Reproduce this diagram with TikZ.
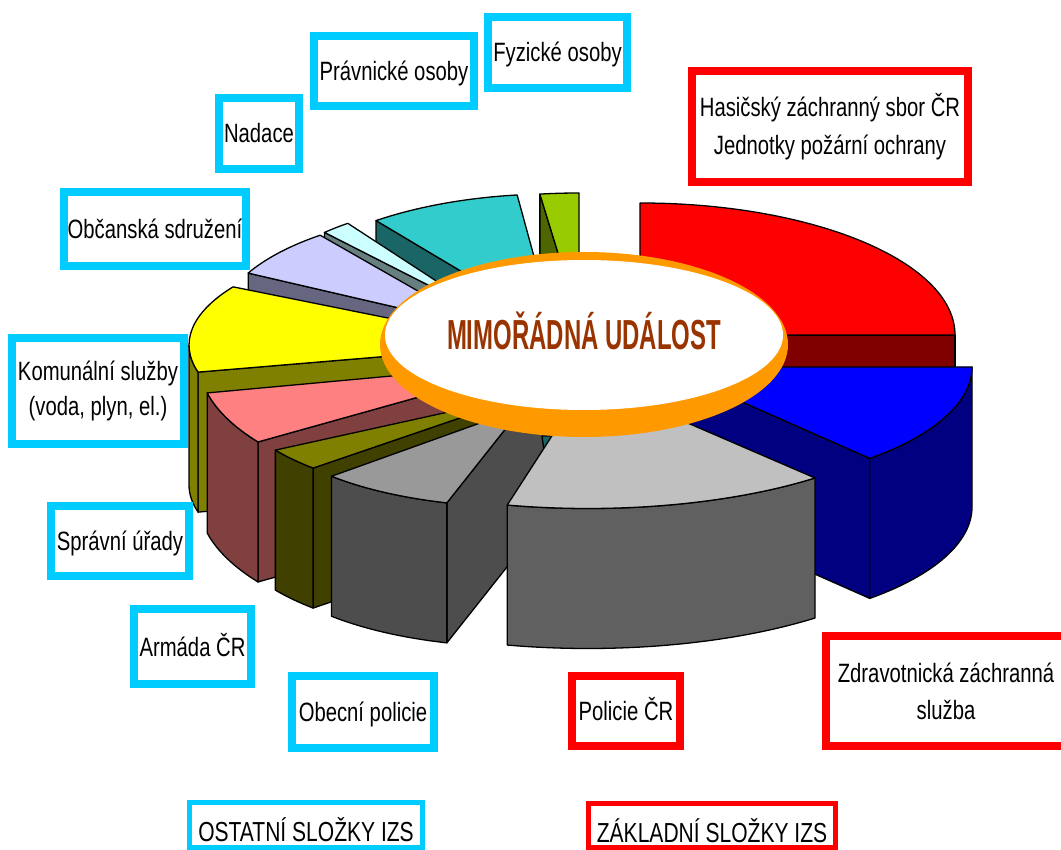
\documentclass[tikz,border=0pt]{standalone}
\usepackage{fontspec}
\newfontfamily\lbl{Liberation Sans}[FakeStretch=0.765]
\newfontfamily\ttlfont{Liberation Sans}[FakeStretch=0.57]
\usetikzlibrary{shapes.geometric}
\definecolor{izsc}{HTML}{00CCFF}
\definecolor{izsr}{HTML}{FF0000}
\definecolor{ringc}{HTML}{FF9900}
\definecolor{ttlc}{HTML}{993300}
\definecolor{cRedT}{HTML}{FF0000}\definecolor{cRedS}{HTML}{800000}
\definecolor{cBluT}{HTML}{0000FF}\definecolor{cBluS}{HTML}{000080}
\definecolor{cPolT}{HTML}{C0C0C0}\definecolor{cPolS}{HTML}{606060}
\definecolor{cObpT}{HTML}{999999}\definecolor{cObpS}{HTML}{4D4D4D}
\definecolor{cArmT}{HTML}{808000}\definecolor{cArmS}{HTML}{404000}
\definecolor{cSprT}{HTML}{FF8080}\definecolor{cSprS}{HTML}{804040}
\definecolor{cKomT}{HTML}{FFFF00}\definecolor{cKomS}{HTML}{808000}
\definecolor{cObcT}{HTML}{CCCCFF}\definecolor{cObcS}{HTML}{666680}
\definecolor{cNadT}{HTML}{CCFFFF}\definecolor{cNadS}{HTML}{668080}
\definecolor{cPraT}{HTML}{33CCCC}\definecolor{cPraS}{HTML}{1A6666}
\definecolor{cFyzT}{HTML}{99CC00}\definecolor{cFyzS}{HTML}{4D6600}
\tikzset{
  slc/.style={draw=black,line width=1.3pt,line join=round},
  pics/ptop/.style n args={5}{code={%
    \filldraw[slc,fill=#5] (0,0) -- (#3:#1 and #2) arc[start angle=#3,end angle=#4,x radius=#1,y radius=#2] -- cycle;}},
  pics/pside/.style n args={5}{code={%
    \filldraw[slc,fill=#5] (#3:#1 and #2) arc[start angle=#3,end angle=#4,x radius=#1,y radius=#2] -- ++(0,140) arc[start angle=#4,end angle=#3,x radius=#1,y radius=#2] -- cycle;}},
  pics/prad/.style n args={5}{code={%
    \filldraw[slc,fill=#5] (#3:#1 and #2) -- (#3+180:#4*#1 and #4*#2) -- ++(0,140) -- ++(#3:#1+#4*#1 and #2+#4*#2) -- cycle;}},
  lab/.style={draw=#1,line width=8pt,fill=white,inner sep=0pt,font=\lbl\fontsize{26.5}{36}\selectfont},
  one/.style={text height=19pt,text depth=0pt}
}
\begin{document}
\begin{tikzpicture}[x=1pt,y=1pt,yscale=-1,every pic/.style={transform shape}]
\useasboundingbox (0,0) rectangle (1061,850);
\clip (0,0) rectangle (1061,850);
\fill[white] (0,0) rectangle (1061,850);
% back slices
\pic[transform shape] at (579,321) {prad={300}{128}{262.5}{0}{cFyzS}};
\pic[transform shape] at (579,321) {ptop={300}{128}{262.5}{270}{cFyzT}};
\pic[transform shape] at (553,326) {prad={294}{132}{233}{0}{cPraS}};
\pic[transform shape] at (553,326) {ptop={294}{132}{233}{263}{cPraT}};
\pic[transform shape] at (493,318) {prad={247}{117}{227}{0}{cNadS}};
\pic[transform shape] at (493,318) {ptop={247}{117}{227}{234}{cNadT}};
\pic[transform shape] at (481,327) {prad={263}{116}{207.7}{0}{cObcS}};
\pic[transform shape] at (481,327) {ptop={263}{116}{207.7}{232.3}{cObcT}};
% Komunalni sluzby
\pic[transform shape] at (522,345) {prad={333}{117}{166.6}{0}{cKomS}};
\pic[transform shape] at (522,345) {pside={333}{117}{166.6}{180}{cKomS}};
\pic[transform shape] at (522,345) {ptop={333}{117}{166.6}{209.8}{cKomT}};
% Spravni urady
\pic[transform shape] at (544,362) {prad={345}{143}{146}{0}{cSprS}};
\pic[transform shape] at (544,362) {pside={345}{143}{146}{167.5}{cSprS}};
\pic[transform shape] at (544,362) {ptop={345}{143}{146}{167.5}{cSprT}};
% Armada
\pic[transform shape] at (530,394) {prad={298}{108}{136.7}{0}{cArmS}};
\pic[transform shape] at (530,394) {pside={298}{108}{136.7}{148.7}{cArmS}};
\pic[transform shape] at (530,394) {ptop={298}{108}{136.7}{148.7}{cArmT}};
% Obecni policie
\pic[transform shape] at (522,408) {prad={263}{99}{106.6}{0.4}{cObpS}};
\pic[transform shape] at (522,408) {pside={263}{99}{106.6}{136.4}{cObpS}};
\pic[transform shape] at (522,408) {ptop={263}{99}{106.6}{136.4}{cObpT}};
\filldraw[slc,fill=cPraS] (542,436) -- (560,436) -- (545,458) -- cycle;
% HZS
\pic[transform shape] at (640,335) {prad={315}{132}{360}{0}{cRedS}};
\pic[transform shape] at (640,335) {ptop={315}{132}{270}{360}{cRedT}};
% ZZS
\pic[transform shape] at (663,367) {prad={309}{123}{48}{0}{cBluS}};
\pic[transform shape] at (663,367) {pside={309}{123}{0}{48}{cBluS}};
\pic[transform shape] at (663,367) {ptop={309}{123}{0}{48}{cBluT}};
% Policie
\pic[transform shape] at (588,380) {pside={351}{128.5}{49.7}{103.3}{cPolS}};
\pic[transform shape] at (588,380) {ptop={351}{128.5}{49.7}{103.3}{cPolT}};
% centre
\fill[ringc] (584,344.5) ellipse [x radius=204, y radius=92.5];
\node (mu) [ellipse,fill=white,minimum width=398pt,minimum height=150pt,inner sep=0pt,
  text=ttlc,font=\ttlfont\bfseries\fontsize{42}{50}\selectfont,text height=30pt,text depth=0pt]
  at (584,335) {MIMOŘÁDNÁ UDÁLOST};
% labels
\node (fyz) [lab=izsc,one,minimum width=139pt,minimum height=71pt] at (557.5,52.5) {Fyzické osoby};
\node (prav) [lab=izsc,one,minimum width=160pt,minimum height=70pt] at (394,71) {Právnické osoby};
\node (nad) [lab=izsc,one,minimum width=80pt,minimum height=71pt] at (259,133.5) {Nadace};
\node (obc) [lab=izsc,one,minimum width=182pt,minimum height=74pt] at (155,229) {Občanská sdružení};
\node (kom) [lab=izsc,align=center,font=\lbl\fontsize{26.5}{35}\selectfont,minimum width=172pt,minimum height=106pt] at (98,391) {Komunální služby\\(voda, plyn, el.)};
\node (spr) [lab=izsc,one,minimum width=138pt,minimum height=70pt] at (120,541) {Správní úřady};
\node (arm) [lab=izsc,one,minimum width=117pt,minimum height=75pt] at (192.5,646.5) {Armáda ČR};
\node (obp) [lab=izsc,one,minimum width=142pt,minimum height=72pt] at (363,712) {Obecní policie};
\node (pol) [lab=izsr,one,minimum width=108pt,minimum height=70pt] at (626,711) {Policie ČR};
\node (zdr) [lab=izsr,align=center,font=\lbl\fontsize{26.5}{37}\selectfont,minimum width=240pt,minimum height=110pt] at (946,691) {Zdravotnická záchranná\\služba};
\node (hzs) [lab=izsr,line width=8.5pt,align=center,font=\lbl\fontsize{26.5}{38}\selectfont,minimum width=276pt,minimum height=111pt] at (830,126.5) {Hasičský záchranný sbor ČR\\Jednotky požární ochrany};
\node (ost) [lab=izsc,line width=5pt,font=\lbl\fontsize{27.5}{36}\selectfont,text height=33pt,text depth=0pt,minimum width=233pt,minimum height=45pt] at (306,825) {OSTATNÍ SLOŽKY IZS};
\node (zak) [lab=izsr,line width=5pt,font=\lbl\fontsize{27.5}{36}\selectfont,text height=33pt,text depth=0pt,minimum width=247pt,minimum height=44pt] at (712,825.5) {ZÁKLADNÍ SLOŽKY IZS};
\end{tikzpicture}
\end{document}
